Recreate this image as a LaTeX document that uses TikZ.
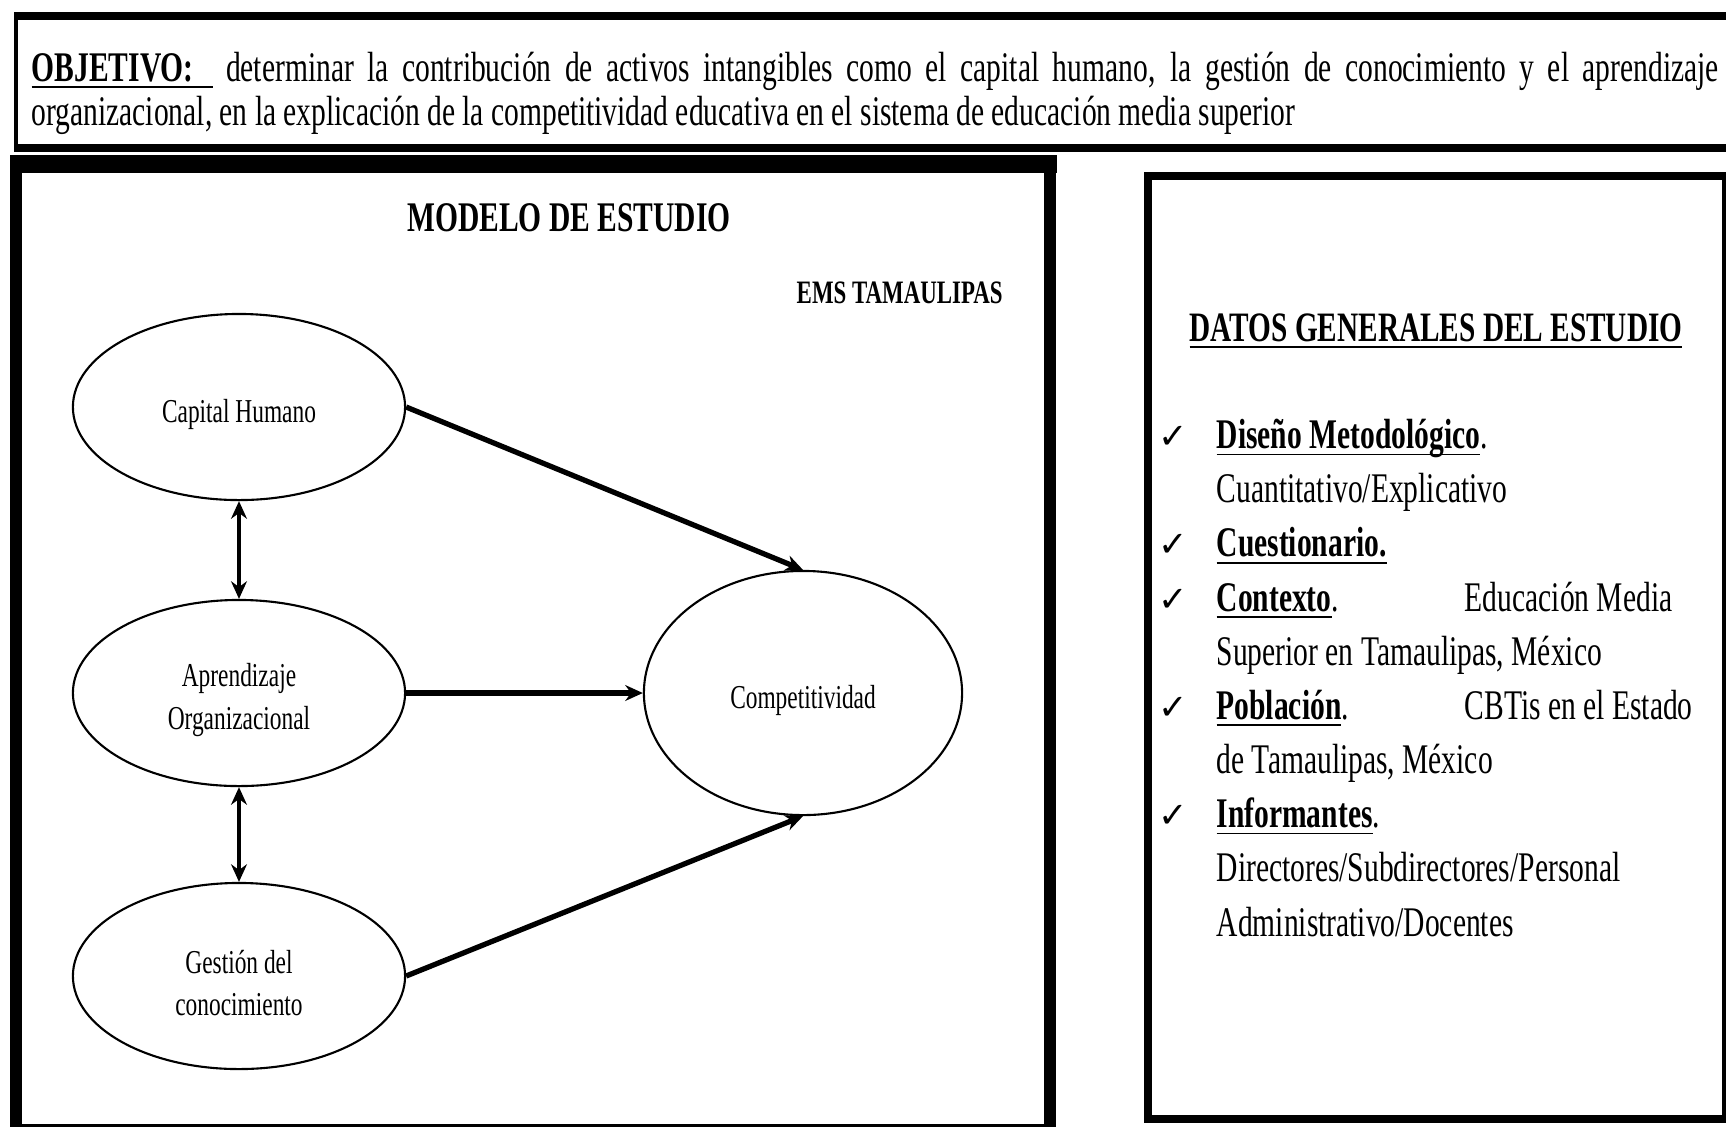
\documentclass[tikz,border=0pt]{standalone}
\usepackage{amsmath}
\usepackage{fontspec}
\setmainfont[FakeStretch=0.7]{Liberation Serif}
\newfontfamily\checkfont{DejaVu Sans}
\usetikzlibrary{arrows.meta, positioning, shapes.geometric}

\newcommand{\subr}[1]{\underline{\smash[b]{#1}}}
\newcommand{\lowr}{\rule{0pt}{10.6pt}}

\begin{document}
\begin{tikzpicture}[
    x=0.01cm, y=-0.01cm,
    >={Stealth[length=5pt, width=4.5pt]},
    factor/.style={ellipse, draw, line width=0.6pt, minimum width=3.32cm, minimum height=1.86cm,
        inner sep=0pt, align=center, font=\fontsize{9.5}{12}\selectfont},
    effect/.style={->, line width=1.5pt},
    corr/.style={<->, line width=0.9pt},
    heading/.style={font=\fontsize{12}{14}\selectfont\bfseries},
    datalist/.style={anchor=north west, inner sep=0pt, font=\fontsize{12}{15.4}\selectfont}
]

% Canvas
\useasboundingbox (0,0) rectangle (1726,1126);
\fill[white] (0,0) rectangle (1726,1126);
\clip (0,0) rectangle (1726,1126);

% ===== Objective banner =====
\draw[line width=1.1pt] (16,16) rectangle (1740,148);
\draw[line width=2.2pt] (14,16) -- (1740,16) (14,148) -- (1740,148);
\node[anchor=north west, inner sep=0pt, text width=16.86cm, align=justify,
    font=\fontsize{12}{12.6}\selectfont] (objetivo) at (31,51)
    {\hyphenpenalty=10000 \subr{\textbf{OBJETIVO:}\hspace{0.45em}} determinar la contribución de activos intangibles como el capital humano, la gestión de conocimiento y el aprendizaje\linebreak organizacional, en la explicación de la competitividad educativa en el sistema de educación media superior};

% ===== Panel 1: study model =====
\draw[line width=3.6pt] (16,162) rectangle (1050,1130);
\draw[line width=5.1pt] (10,164) -- (1057,164);
\node[heading] (modelo) at (569,218) {MODELO DE ESTUDIO};
\node[font=\fontsize{9.3}{11}\selectfont\bfseries, anchor=east] (ems) at (1015,293) {EMS TAMAULIPAS};

% Factors
\node[factor] (capital) at (239,407) {\lowr Capital Humano};
\node[factor] (aprendizaje) at (239,693) {\lowr Aprendizaje\\Organizacional};
\node[factor] (gestion) at (239,976) {\lowr Gestión del\\conocimiento};
\node[factor, minimum width=3.18cm, minimum height=2.44cm] (compet) at (803,693) {\lowr Competitividad};

% Paths
\draw[effect] (capital.east) -- (compet.north);
\draw[effect] (aprendizaje.east) -- (compet.west);
\draw[effect] (gestion.east) -- (compet.south);
\draw[corr] (capital.south) -- (aprendizaje.north);
\draw[corr] (aprendizaje.south) -- (gestion.north);

% ===== Panel 2: general data =====
\draw[line width=2.3pt] (1148,176) rectangle (1726,1119);
\node[font=\fontsize{11.9}{14}\selectfont\bfseries, anchor=base] (datos) at (1436,341)
    {\subr{DATOS GENERALES DEL ESTUDIO}};

\node[datalist] (lista) at (1158,410) {%
\begin{tabular}{@{}p{0.58cm}@{}l@{}}
{\checkfont\fontsize{10}{12}\selectfont ✓} & \subr{\textbf{Diseño Metodológico}}. \\
 & Cuantitativo/Explicativo \\
{\checkfont\fontsize{10}{12}\selectfont ✓} & \subr{\textbf{Cuestionario.}} \\
{\checkfont\fontsize{10}{12}\selectfont ✓} & \makebox[2.48cm][l]{\subr{\textbf{Contexto}}.}Educación Media \\
 & Superior en Tamaulipas, México \\
{\checkfont\fontsize{10}{12}\selectfont ✓} & \makebox[2.48cm][l]{\subr{\textbf{Población}}.}CBTis en el Estado \\
 & de Tamaulipas, México \\
{\checkfont\fontsize{10}{12}\selectfont ✓} & \subr{\textbf{Informantes}}. \\
 & Directores/Subdirectores/Personal \\
 & Administrativo/Docentes
\end{tabular}};

\end{tikzpicture}
\end{document}
